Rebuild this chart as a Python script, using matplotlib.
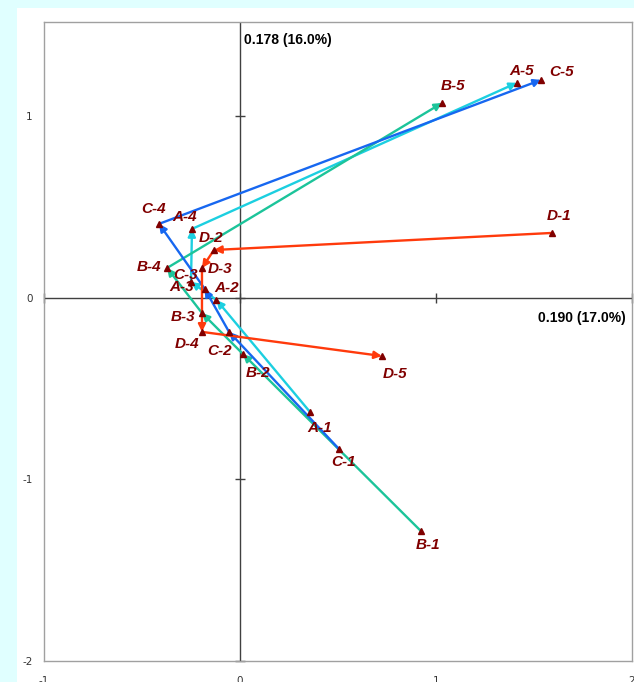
import matplotlib
matplotlib.use("Agg")
import matplotlib.pyplot as plt
from matplotlib.patches import Rectangle

# four series, each a path through five points (1 -> 5)
series = ["A", "B", "C", "D"]
colors = {"A": "#1ccfe0", "B": "#1cc49a", "C": "#1767f0", "D": "#ff3a0c"}
x_vals = {
    "A": [0.357, -0.120, -0.250, -0.245, 1.413],
    "B": [0.923, 0.015, -0.194, -0.372, 1.031],
    "C": [0.505, -0.056, -0.180, -0.413, 1.536],
    "D": [1.592, -0.133, -0.194, -0.194, 0.724],
}
y_vals = {
    "A": [-0.628, -0.011, 0.088, 0.380, 1.185],
    "B": [-1.284, -0.309, -0.083, 0.165, 1.074],
    "C": [-0.832, -0.187, 0.050, 0.408, 1.201],
    "D": [0.358, 0.264, 0.165, -0.187, -0.320],
}
# label offsets in pixels (dx, dy)
label_off = {
    "A": [(10, -16), (10, 12), (-9, -5), (-7, 12), (5, 12)],
    "B": [(7, -14), (15, -19), (-19, -4), (-18, 1), (11, 17)],
    "C": [(5, -13), (-9, -19), (-19, 14), (-5, 15), (21, 8)],
    "D": [(7, 17), (-3, 12), (18, -1), (-15, -12), (13, -18)],
}
x_ticks = [-1, 0, 1, 2]
y_ticks = [-2, -1, 0, 1]
x_title = "0.190 (17.0%)"
y_title = "0.178 (16.0%)"

fig = plt.figure(figsize=(6.34, 6.82), dpi=100, facecolor="#e0ffff")
fig.patches.append(Rectangle((17 / 634, 0), 1, 1 - 8 / 682, transform=fig.transFigure,
                             facecolor="white", edgecolor="none", zorder=-10))
ax = fig.add_axes([44 / 634, 1 - 661 / 682, 588 / 634, 639 / 682])
ax.set_xlim(-1, 2)
ax.set_ylim(-2, 1.52)
ax.set_facecolor("white")
for s in ax.spines.values():
    s.set_color("#a0a0a0")
    s.set_linewidth(1.0)

ax.set_xticks(x_ticks)
ax.set_yticks(y_ticks)
ax.set_xticklabels([str(t) for t in x_ticks])
ax.set_yticklabels([str(t) for t in y_ticks])
ax.tick_params(axis="x", length=0, pad=11, labelsize=7.5, labelcolor="#333333")
ax.tick_params(axis="y", length=0, pad=8, labelsize=7.5, labelcolor="#333333")

# crossing axes through the origin
ax.axhline(0, color="#404040", lw=1.0, zorder=1)
ax.axvline(0, color="#404040", lw=1.0, zorder=1)
ax.plot(x_ticks, [0] * len(x_ticks), ls="none", marker="|", ms=7, mew=1.0, color="#404040",
        zorder=1, clip_on=False)
ax.plot([0] * len(y_ticks), y_ticks, ls="none", marker="_", ms=7, mew=1.0, color="#404040",
        zorder=1, clip_on=False)

for s in series:
    xs, ys = x_vals[s], y_vals[s]
    for i in range(len(xs) - 1):
        ax.annotate("", xy=(xs[i + 1], ys[i + 1]), xytext=(xs[i], ys[i]),
                    arrowprops=dict(arrowstyle="-|>", color=colors[s], lw=1.7,
                                    shrinkA=0, shrinkB=0, mutation_scale=11),
                    zorder=3)
    ax.plot(xs, ys, ls="none", marker="^", ms=5, color="#800000", zorder=4)
    for i in range(len(xs)):
        dx, dy = label_off[s][i]
        ax.annotate(f"{s}-{i + 1}", (xs[i], ys[i]), xytext=(dx, dy), textcoords="offset pixels",
                    ha="center", va="center", fontsize=11, fontweight="bold", fontstyle="italic",
                    family="Liberation Sans", color="#800000", zorder=5)

ax.text(0.02, 1.42, y_title, ha="left", va="center", fontsize=10, fontweight="bold",
        family="Liberation Sans", color="black")
ax.text(1.97, -0.11, x_title, ha="right", va="center", fontsize=10, fontweight="bold",
        family="Liberation Sans", color="black")

fig.savefig("out.png", dpi=100, facecolor=fig.get_facecolor())
